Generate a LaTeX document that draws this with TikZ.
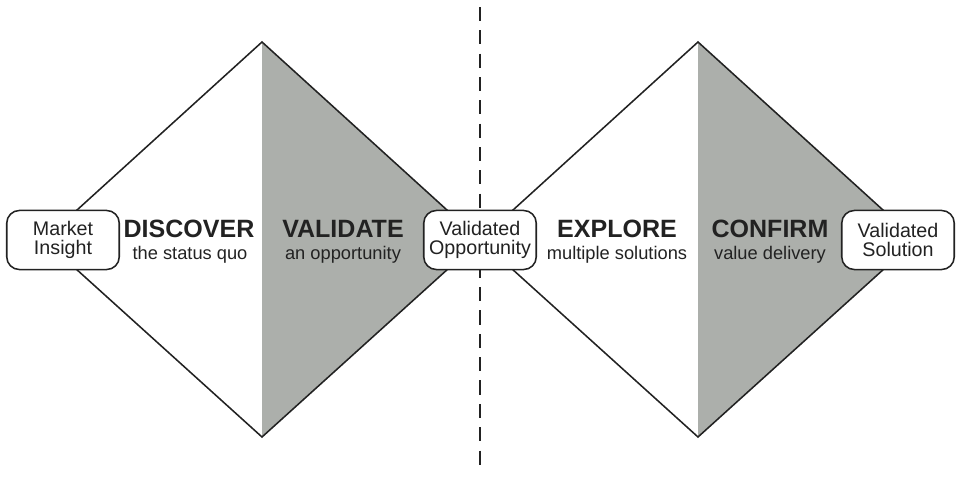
\documentclass[tikz,border=0pt]{standalone}
\usepackage{fontspec}
\setmainfont{Liberation Sans}
\usetikzlibrary{positioning}
\definecolor{inkdark}{RGB}{34,34,34}
\definecolor{diamondgrey}{RGB}{172,175,171}
\tikzset{
  diamond edge/.style={draw=inkdark, line width=1.1pt, line join=miter},
  grey half/.style={fill=diamondgrey, draw=none},
  milestone/.style={
    rectangle, rounded corners=9pt, draw=inkdark, line width=1.1pt,
    fill=white, text=inkdark, align=center,
    minimum width=80pt, minimum height=42pt, inner sep=2pt,
    font=\fontsize{14}{14}\selectfont
  },
  phase title/.style={anchor=base, text=inkdark, inner sep=0pt,
    font=\fontsize{17.8}{20}\selectfont\bfseries},
  phase sub/.style={anchor=base, text=inkdark, inner sep=0pt,
    font=\fontsize{13}{15}\selectfont},
  divider/.style={draw=inkdark, line width=1.5pt, dash pattern=on 10pt off 6.6pt}
}
\begin{document}
\begin{tikzpicture}[x=0.025cm, y=-0.025cm]
    \useasboundingbox (0,0) rectangle (960,480);
    % grey halves
    \fill[grey half] (262,42) -- (480,240) -- (262,437) -- cycle;
    \fill[grey half] (698,42) -- (916,240) -- (698,437) -- cycle;
    % diamonds
    \draw[diamond edge] (44,240) -- (262,42) -- (480,240) -- (262,437) -- cycle;
    \draw[diamond edge] (480,240) -- (698,42) -- (916,240) -- (698,437) -- cycle;
    % divider
    \coordinate (divtop) at (480,7);
    \coordinate (divbot) at (480,473);
    \draw[divider] (divtop) -- (divbot);
    % phases
    \node[phase title] (discover) at (189,237) {DISCOVER};
    \node[phase sub] (discoversub) at (190,259) {the status quo};
    \node[phase title] (validate) at (343,237) {VALIDATE};
    \node[phase sub] (validatesub) at (343,259) {an opportunity};
    \node[phase title] (explore) at (617,237) {EXPLORE};
    \node[phase sub] (exploresub) at (617,259) {multiple solutions};
    \node[phase title] (confirm) at (770,237) {CONFIRM};
    \node[phase sub] (confirmsub) at (770,259) {value delivery};
    % milestones
    \node[milestone] (insight) at (63,240) {Market\\Insight};
    \node[milestone] (opportunity) at (480,240) {Validated\\Opportunity};
    \node[milestone] (solution) at (898,240) {Validated\\Solution};
  \end{tikzpicture}
\end{document}
